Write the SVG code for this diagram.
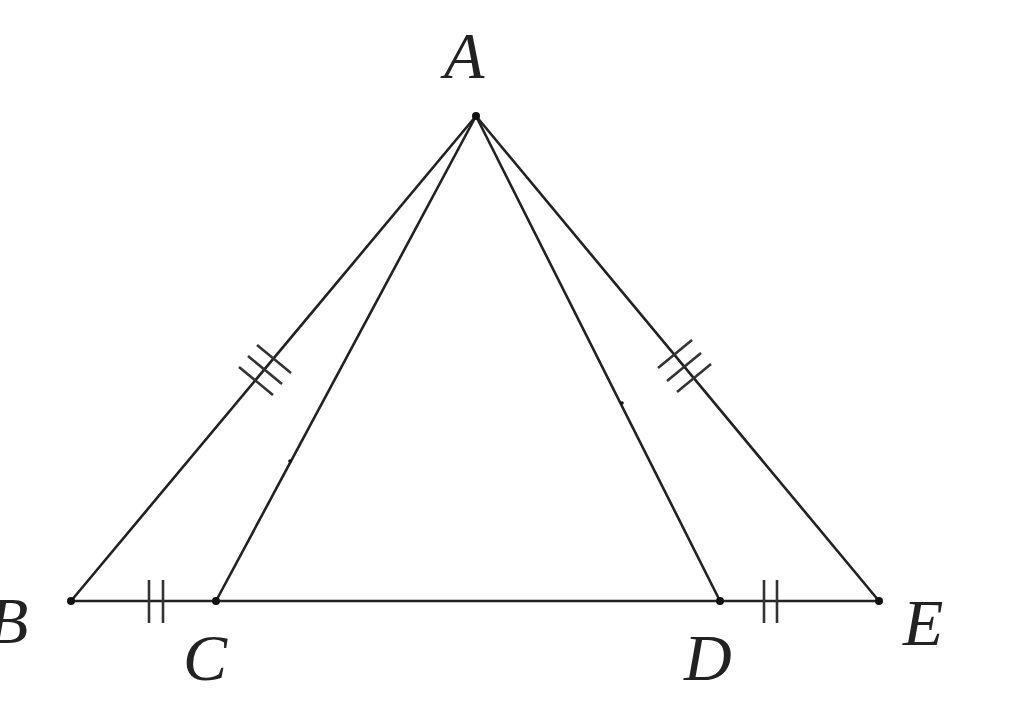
<svg xmlns="http://www.w3.org/2000/svg" width="1024" height="718" viewBox="0 0 1024 718">
<style>
.ln{stroke:#222;stroke-width:2.6;fill:none;stroke-linecap:round}
.tk{stroke:#333;stroke-width:2.6;fill:none}
.pt{fill:#111}
.lb{font-family:"Liberation Serif","Times New Roman",serif;font-style:italic;font-size:66px;fill:#222}
</style>
<rect width="1024" height="718" fill="#fff"/>
<g id="connectors">
<line class="ln" x1="71" y1="601" x2="879" y2="601"/>
<line class="ln" x1="476" y1="116" x2="71" y2="601"/>
<line class="ln" x1="476" y1="116" x2="216" y2="601"/>
<line class="ln" x1="476" y1="116" x2="720" y2="601"/>
<line class="ln" x1="476" y1="116" x2="879" y2="601"/>
<g id="ticks">
<line class="tk" x1="149" y1="580" x2="149" y2="623"/>
<line class="tk" x1="163" y1="580" x2="163" y2="623"/>
<line class="tk" x1="764" y1="580" x2="764" y2="623"/>
<line class="tk" x1="777" y1="580" x2="777" y2="623"/>
<line class="tk" x1="257" y1="345" x2="291" y2="373"/>
<line class="tk" x1="248" y1="356" x2="282" y2="384"/>
<line class="tk" x1="239" y1="367" x2="273" y2="395"/>
<line class="tk" x1="658" y1="368" x2="692" y2="340"/>
<line class="tk" x1="667" y1="381" x2="701" y2="353"/>
<line class="tk" x1="677" y1="392" x2="711" y2="364"/>
</g>
<circle class="pt" cx="290" cy="461" r="1.8"/>
<circle class="pt" cx="622" cy="403" r="1.8"/>
</g>
<g id="A"><circle class="pt" cx="476" cy="116" r="4"/><text class="lb" x="444" y="78">A</text></g>
<g id="B"><circle class="pt" cx="71" cy="601" r="4"/><text class="lb" x="-12" y="643">B</text></g>
<g id="C"><circle class="pt" cx="216" cy="601" r="4"/><text class="lb" x="183" y="680">C</text></g>
<g id="D"><circle class="pt" cx="720" cy="601" r="4"/><text class="lb" x="684" y="680">D</text></g>
<g id="E"><circle class="pt" cx="879" cy="601" r="4"/><text class="lb" x="903" y="645">E</text></g>
</svg>
